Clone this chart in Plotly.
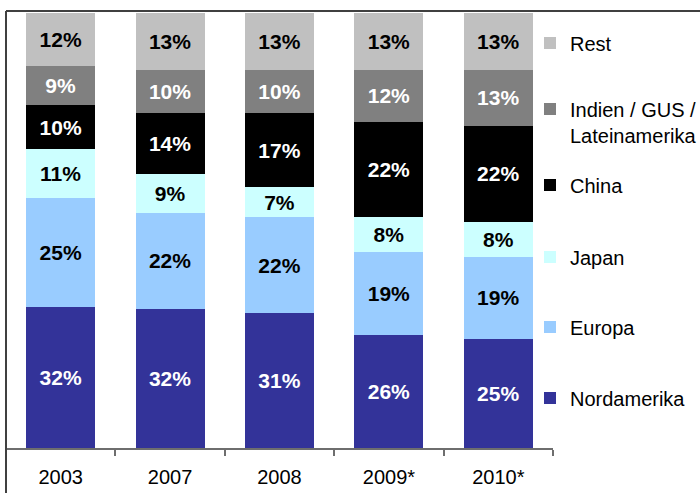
import plotly.graph_objects as go

years = ["2003", "2007", "2008", "2009*", "2010*"]
series_names = ["Nordamerika", "Europa", "Japan", "China", "Indien / GUS /<br>Lateinamerika", "Rest"]
nordamerika = [32, 32, 31, 26, 25]
europa = [25, 22, 22, 19, 19]
japan = [11, 9, 7, 8, 8]
china = [10, 14, 17, 22, 22]
indien = [9, 10, 10, 12, 13]
rest = [12, 13, 13, 13, 13]

values = [nordamerika, europa, japan, china, indien, rest]
colors = ["#333399", "#99CCFF", "#CCFFFF", "#000000", "#808080", "#C0C0C0"]
text_colors = ["white", "black", "black", "white", "white", "black"]

W, H = 700, 493
ml, mr, mt, mb = 6, 147, 13, 45
pw = W - ml - mr
ph = H - mt - mb

def py(p):
    return 1 - (p - mt) / ph

def px(p):
    return (p - ml) / pw

# legend centre pixel y positions (top to bottom: Rest ... Nordamerika)
legend_y = {"Rest": 43, "Indien / GUS /<br>Lateinamerika": 122, "China": 185,
            "Japan": 257, "Europa": 327, "Nordamerika": 398}

FONT = "Arial, Liberation Sans, sans-serif"
fig = go.Figure()
layout_legends = {}
for i, (name, vals, col, tcol) in enumerate(zip(series_names, values, colors, text_colors)):
    lname = "legend" if i == 0 else f"legend{i+1}"
    fig.add_trace(go.Bar(
        x=years, y=vals, name=name, marker=dict(color=col, line=dict(width=0)),
        text=[f"{v}%" for v in vals], textposition="inside", insidetextanchor="middle",
        textangle=0, constraintext="none",
        textfont=dict(color=tcol, size=21, family=FONT, weight="bold"),
        legend=lname, showlegend=True,
    ))
    layout_legends[lname] = dict(
        x=px(530), xanchor="left", y=py(legend_y[name]), yanchor="middle",
        font=dict(size=20, family=FONT, color="black"), bgcolor="rgba(0,0,0,0)",
        valign="top", itemclick=False, itemdoubleclick=False,
    )

fig.update_layout(
    width=W, height=H, barmode="stack", barnorm="percent", bargap=0.37,
    showlegend=True,
    margin=dict(l=ml, r=mr, t=mt, b=mb, pad=0, autoexpand=False),
    plot_bgcolor="white", paper_bgcolor="white",
    font=dict(family=FONT, size=20, color="black"),
    xaxis=dict(type="category", showline=True, linecolor="#6e6e6e", linewidth=1.5,
               ticks="outside", tickson="boundaries", ticklen=6, tickcolor="#6e6e6e",
               tickwidth=1.5, showgrid=False, ticklabelstandoff=10,
               tickfont=dict(size=20, family=FONT, color="black"), fixedrange=True),
    yaxis=dict(visible=False, range=[0, 100], fixedrange=True),
    shapes=[
        dict(type="line", xref="paper", yref="paper", x0=0, x1=0, y0=py(H + 2), y1=py(11),
             line=dict(color="#404040", width=2)),
        dict(type="line", xref="paper", yref="paper", x0=0, x1=px(W + 2), y0=py(11), y1=py(11),
             line=dict(color="#404040", width=2)),
    ],
    **layout_legends,
)

fig.write_html("out.html", config={"displayModeBar": False},
               post_script="document.body.style.margin='0';document.body.style.overflow='hidden';")
